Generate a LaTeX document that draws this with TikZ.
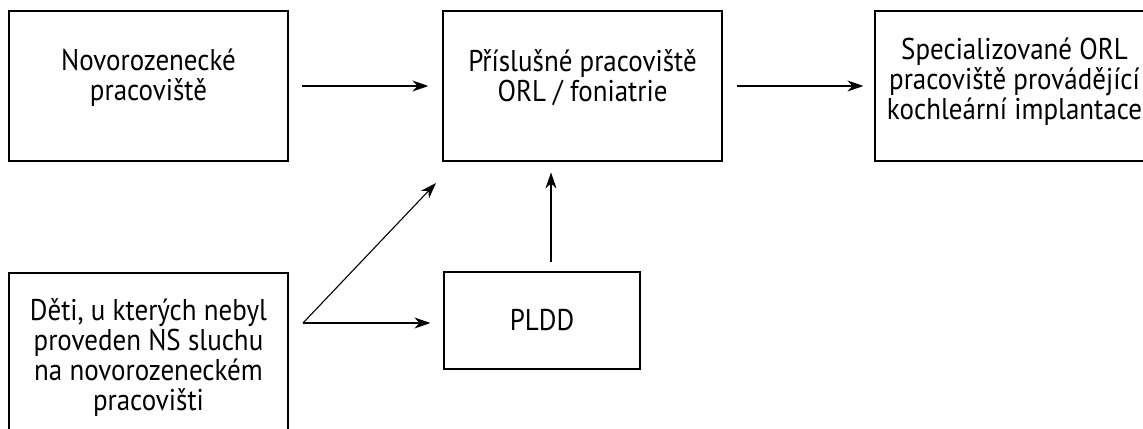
\documentclass[tikz,border=0pt]{standalone}
\usepackage{fontspec}
\setmainfont[FakeStretch=0.9]{PT Sans}
\usetikzlibrary{arrows.meta}
\tikzset{
  box/.style={draw, line width=0.6pt, minimum width=139.5pt, minimum height=75pt,
    align=center, inner sep=0pt, font=\fontsize{15}{15}\selectfont},
  arr/.style={line width=0.55pt, ->, >={Stealth[length=8pt,width=5.5pt,inset=2.5pt]}}
}
\begin{document}
\begin{tikzpicture}[x=0.5pt,y=-0.5pt]
\useasboundingbox (0,0) rectangle (1143,428);
\node[box, text depth=11pt] (novo) at (148.5,86) {Novorozenecké\\pracoviště};
\node[box, text depth=10pt] (orl) at (582.5,86) {Příslušné pracoviště\\ORL / foniatrie};
\node[box, text depth=7pt] (spec) at (1014.5,86) {Specializované ORL\\pracoviště provádějící\\kochleární implantace};
\node[box, minimum height=85pt] (deti) at (148.5,358) {Děti, u kterých nebyl\\proveden NS sluchu\\na novorozeneckém\\pracovišti};
\node[box, minimum width=98pt, minimum height=48.5pt] (pldd) at (542,320.5) {PLDD};
\coordinate (J) at (303,323);
\coordinate (K) at (436,183);
\draw[arr, shorten <=6.5pt, shorten >=7pt] (novo.east) -- (orl.west);
\draw[arr, shorten <=7pt, shorten >=5.5pt] (orl.east) -- (spec.west);
\draw[arr] (J) -- (K);
\draw[arr, shorten >=6.5pt] (J) -- (J -| pldd.west);
\draw[arr] ([xshift=4.5pt,yshift=4.5pt]pldd.north) -- ++(0,-90);
\end{tikzpicture}
\end{document}
